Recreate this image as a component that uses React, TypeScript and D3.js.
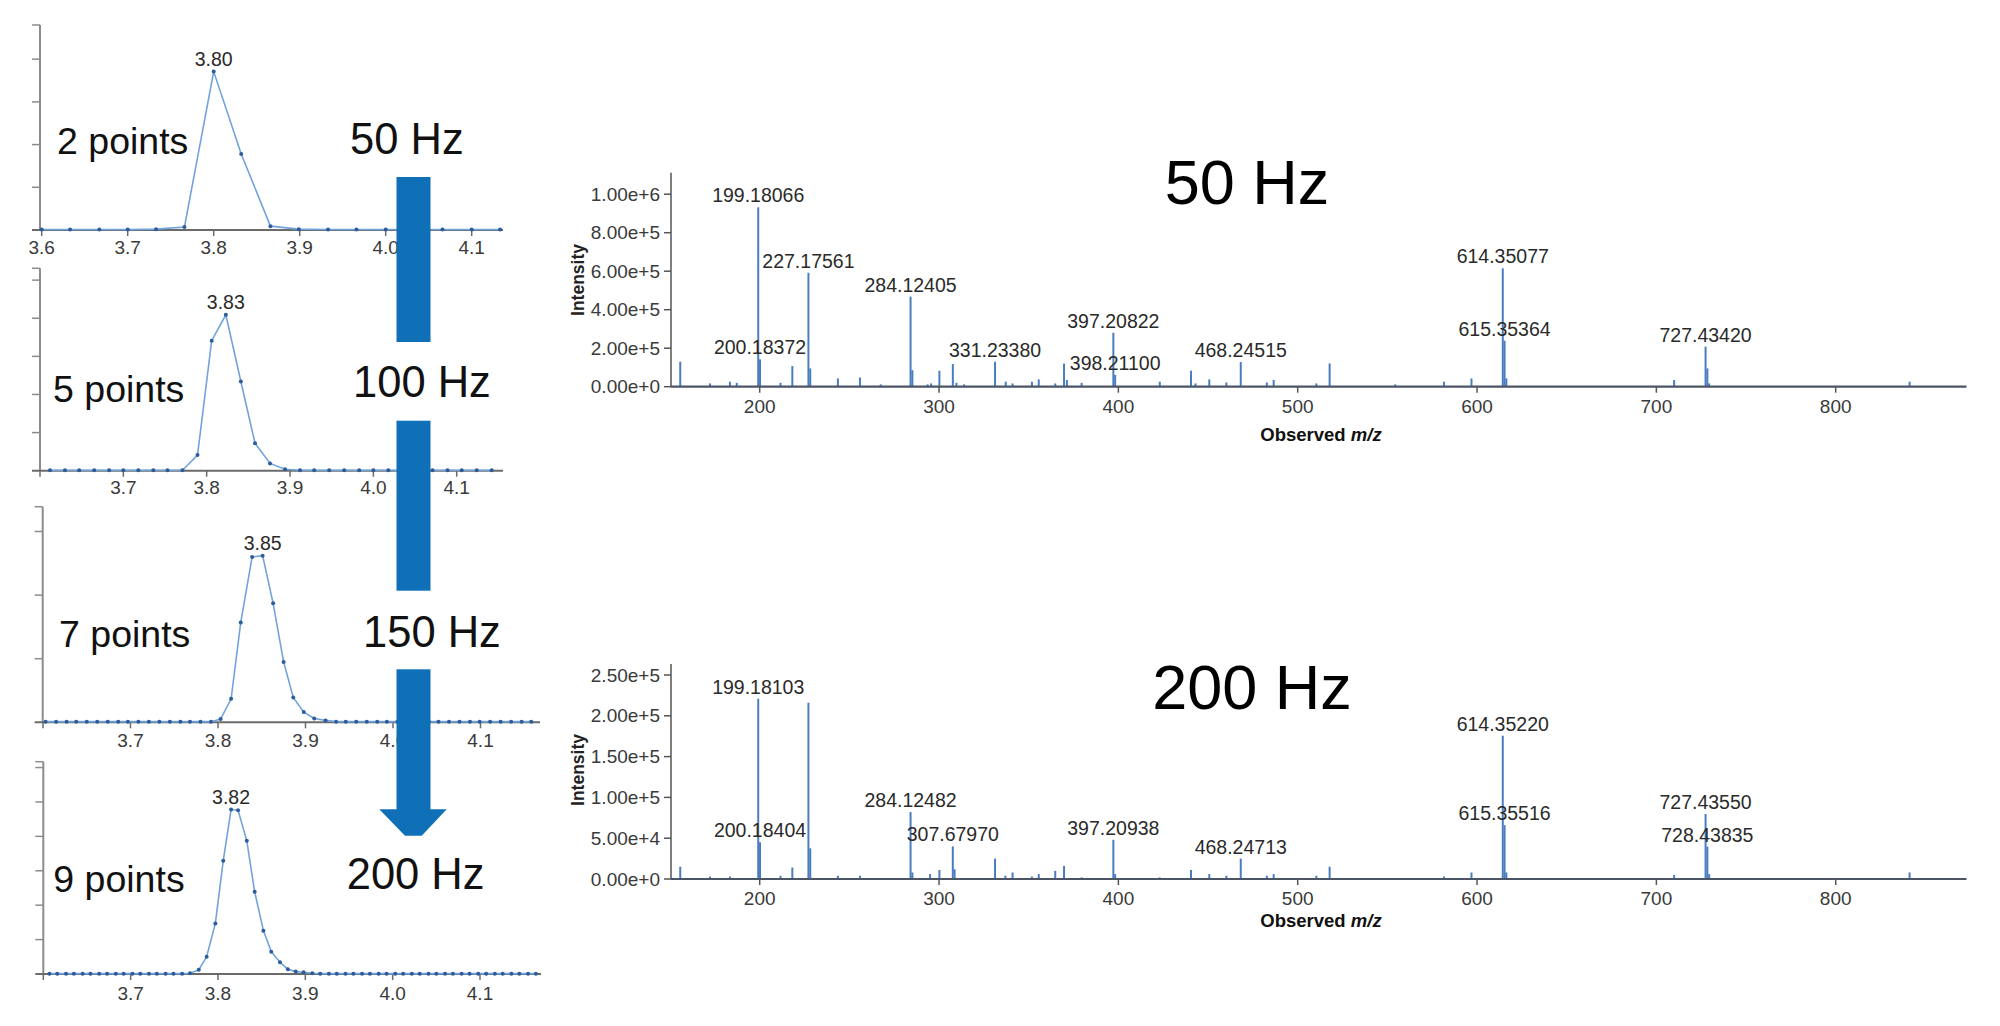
import React from 'react';
import * as d3 from 'd3';

// ---------- Chromatogram data (retention time in min, relative intensity in tick units) ----------
const chromTickValues = [3.6, 3.7, 3.8, 3.9, 4.0, 4.1];

const p1Time = [3.600, 3.633, 3.667, 3.700, 3.733, 3.766, 3.800, 3.832, 3.866, 3.899, 3.933, 3.966, 4.000, 4.033, 4.066, 4.100, 4.133];
const p1Int = [0.01, 0.01, 0.01, 0.01, 0.02, 0.07, 3.71, 1.78, 0.09, 0.02, 0.01, 0.01, 0.01, 0.01, 0.01, 0.01, 0.01];

const p2Time = [3.612, 3.630, 3.647, 3.665, 3.683, 3.700, 3.718, 3.736, 3.753, 3.771, 3.789, 3.806, 3.823, 3.841, 3.858, 3.876, 3.894, 3.912, 3.929, 3.947, 3.965, 3.983, 4.000, 4.018, 4.036, 4.053, 4.071, 4.089, 4.106, 4.124, 4.142];
const p2Int = [0.01, 0.01, 0.01, 0.01, 0.01, 0.01, 0.01, 0.01, 0.01, 0.01, 0.41, 3.41, 4.09, 2.34, 0.72, 0.19, 0.04, 0.01, 0.01, 0.01, 0.01, 0.01, 0.01, 0.01, 0.01, 0.01, 0.01, 0.01, 0.01, 0.01, 0.01];

const p3Time = [3.603, 3.615, 3.627, 3.638, 3.650, 3.662, 3.674, 3.686, 3.697, 3.709, 3.721, 3.733, 3.745, 3.757, 3.768, 3.780, 3.792, 3.803, 3.815, 3.826, 3.839, 3.851, 3.863, 3.875, 3.886, 3.898, 3.910, 3.923, 3.935, 3.946, 3.958, 3.970, 3.982, 3.993, 4.005, 4.017, 4.029, 4.041, 4.052, 4.064, 4.076, 4.088, 4.099, 4.111, 4.123, 4.135, 4.147, 4.158];
const p3Int = [0.01, 0.01, 0.01, 0.01, 0.01, 0.01, 0.01, 0.01, 0.01, 0.01, 0.01, 0.01, 0.01, 0.01, 0.01, 0.01, 0.01, 0.05, 0.37, 1.57, 2.60, 2.62, 1.87, 0.95, 0.39, 0.16, 0.06, 0.03, 0.01, 0.01, 0.01, 0.01, 0.01, 0.01, 0.01, 0.01, 0.01, 0.01, 0.01, 0.01, 0.01, 0.01, 0.01, 0.01, 0.01, 0.01, 0.01, 0.01];

const p4Time = [3.607, 3.616, 3.626, 3.635, 3.645, 3.654, 3.664, 3.673, 3.683, 3.692, 3.702, 3.711, 3.721, 3.730, 3.740, 3.749, 3.759, 3.768, 3.778, 3.787, 3.797, 3.806, 3.815, 3.823, 3.833, 3.842, 3.852, 3.861, 3.871, 3.880, 3.889, 3.898, 3.908, 3.917, 3.927, 3.936, 3.946, 3.955, 3.965, 3.974, 3.984, 3.993, 4.003, 4.012, 4.022, 4.031, 4.041, 4.050, 4.060, 4.069, 4.079, 4.088, 4.098, 4.107, 4.117, 4.126, 4.136, 4.145, 4.155, 4.164];
const p4Int = [0.01, 0.01, 0.01, 0.01, 0.01, 0.01, 0.01, 0.01, 0.01, 0.01, 0.01, 0.01, 0.01, 0.01, 0.01, 0.01, 0.01, 0.02, 0.12, 0.50, 1.47, 3.29, 4.78, 4.76, 3.87, 2.39, 1.26, 0.65, 0.34, 0.14, 0.07, 0.05, 0.02, 0.01, 0.01, 0.01, 0.01, 0.01, 0.01, 0.01, 0.01, 0.01, 0.01, 0.01, 0.01, 0.01, 0.01, 0.01, 0.01, 0.01, 0.01, 0.01, 0.01, 0.01, 0.01, 0.01, 0.01, 0.01, 0.01, 0.01];

const pointLabels = ['2 points', '5 points', '7 points', '9 points'];
const rateLabels = ['50 Hz', '100 Hz', '150 Hz', '200 Hz'];
const apexLabels = ['3.80', '3.83', '3.85', '3.82'];
const apexTimes = [3.800, 3.823, 3.851, 3.815];
const yTickCounts = [[1, 2, 3, 4], [1, 2, 3, 4, 5], [1, 2, 3], [1, 2, 3, 4, 5, 6]];

// ---------- Mass spectra data ----------
const mz50 = [155.7, 172.3, 183.4, 187.2, 199.18066, 200.18372, 211.6, 218.2, 227.17561, 228.18, 243.6, 255.9, 267.5, 284.12405, 285.13, 293.6, 295.6, 300.2, 307.7, 309.7, 314.0, 331.2338, 337.2, 341.0, 351.8, 355.6, 364.8, 369.7, 371.3, 379.5, 397.20822, 398.211, 423.1, 440.5, 443.0, 450.7, 460.2, 468.24515, 482.8, 486.6, 510.4, 517.8, 554.4, 581.6, 596.9, 614.35077, 615.35364, 616.36, 709.9, 727.4342, 728.44, 729.44, 841.2];
const int50 = [130e3, 17e3, 26e3, 20e3, 932e3, 142e3, 20e3, 107e3, 592e3, 95e3, 43e3, 48e3, 12e3, 468e3, 86e3, 12e3, 17e3, 83e3, 118e3, 20e3, 12e3, 130e3, 26e3, 17e3, 26e3, 38e3, 17e3, 120e3, 35e3, 20e3, 280e3, 61e3, 26e3, 83e3, 17e3, 38e3, 22e3, 128e3, 22e3, 35e3, 17e3, 121e3, 12e3, 26e3, 43e3, 615e3, 239e3, 43e3, 35e3, 208e3, 95e3, 17e3, 26e3];
const labels50 = [199.18066, 200.18372, 227.17561, 284.12405, 331.2338, 397.20822, 398.211, 468.24515, 614.35077, 615.35364, 727.4342];

const mz200 = [155.7, 172.3, 183.4, 199.18103, 200.18404, 211.6, 218.2, 227.17, 228.18, 243.6, 255.9, 284.12482, 285.13, 295.0, 300.2, 307.6797, 308.68, 331.23, 337.0, 341.0, 351.8, 355.6, 364.8, 369.7, 379.5, 397.20938, 398.21, 423.0, 440.5, 450.7, 460.2, 468.24713, 482.8, 486.6, 510.4, 517.8, 581.6, 596.9, 614.3522, 615.35516, 616.36, 709.9, 727.4355, 728.43835, 729.44, 841.2];
const int200 = [15e3, 3e3, 3e3, 221e3, 45e3, 4e3, 14e3, 216e3, 37.6e3, 4e3, 4e3, 82e3, 8e3, 6e3, 11e3, 40e3, 12e3, 25e3, 4e3, 8e3, 3e3, 6e3, 10e3, 16e3, 2e3, 48e3, 6e3, 2e3, 11e3, 6e3, 4e3, 25e3, 4e3, 6e3, 4e3, 15e3, 3e3, 8e3, 175.6e3, 66e3, 8e3, 5e3, 79.6e3, 39.6e3, 6e3, 8e3];
const labels200 = [199.18103, 200.18404, 284.12482, 307.6797, 397.20938, 468.24713, 614.3522, 615.35516, 727.4355, 728.43835];

const mzTicks = [200, 300, 400, 500, 600, 700, 800];
const yTicks50 = [0, 2e5, 4e5, 6e5, 8e5, 1e6];
const yTicks200 = [0, 5e4, 1e5, 1.5e5, 2e5, 2.5e5];
const spectrumTitles = ['50 Hz', '200 Hz'];

// ---------- Layout ----------
const FONT = '"Liberation Sans", Arial, sans-serif';
const chromLayout = [
  { x0: 41.7, x1: 471.7, axL: 40, axR: 503, yBase: 230, yTop: 25, yMax: 4.8, tickDy: 17, ptX: 57, ptY: 154, hzX: 350, hzY: 154 },
  { x0: 40, x1: 456.7, axL: 40, axR: 503, yBase: 470.7, yTop: 268.3, yMax: 5.31, tickDy: 17, ptX: 53, ptY: 401.7, hzX: 353, hzY: 397.3 },
  { x0: 43, x1: 480.5, axL: 42.7, axR: 540, yBase: 722.3, yTop: 506.7, yMax: 3.39, tickDy: 18, ptX: 59, ptY: 646.7, hzX: 363, hzY: 646.7 },
  { x0: 43.3, x1: 480, axL: 43.3, axR: 541, yBase: 974, yTop: 761.7, yMax: 6.17, tickDy: 19, ptX: 53.3, ptY: 891.7, hzX: 346.7, hzY: 889.3 },
];
const chromData = [[p1Time, p1Int], [p2Time, p2Int], [p3Time, p3Int], [p4Time, p4Int]];

const specLayout = [
  { yBase: 386.7, yTopTick: 194.2, yTopVal: 1e6, axTop: 172.7, titleX: 1247, titleY: 204, intY: 280, xlabY: 441, tickLabY: 413 },
  { yBase: 879, yTopTick: 675, yTopVal: 2.5e5, axTop: 664, titleX: 1252, titleY: 709, intY: 770, xlabY: 926.7, tickLabY: 905 },
];
const specData = [[mz50, int50, labels50, yTicks50], [mz200, int200, labels200, yTicks200]];

const xMz = d3.scaleLinear().domain([200, 800]).range([759.7, 1835.7]);
const specAxL = 671;
const specAxR = 1966.5;

const ARROW = '#0f70b7';
const fmtE = d3.format('.2e');

function Chrom({ i }: { i: number }) {
  const L = chromLayout[i];
  const [ts, vs] = chromData[i];
  const x = d3.scaleLinear().domain([3.6, 4.1]).range([L.x0, L.x1]);
  const y = d3.scaleLinear().domain([0, L.yMax]).range([L.yBase, L.yTop]);
  const pts = ts.map((t, k) => [t, vs[k]] as [number, number]);
  const line = d3.line<[number, number]>().x(d => x(d[0])).y(d => y(d[1]));
  const ticksShown = i === 0 ? chromTickValues : chromTickValues.slice(1);
  const apexIdx = vs.indexOf(Math.max(...vs));
  return (
    <g>
      {/* y axis */}
      <line x1={L.axL} x2={L.axL} y1={L.yTop} y2={L.yBase} stroke="#8c8c8c" strokeWidth={2} />
      <line x1={L.axL - 8} x2={L.axL} y1={L.yTop} y2={L.yTop} stroke="#8c8c8c" strokeWidth={1.5} />
      {yTickCounts[i].map(v => (
        <line key={v} x1={L.axL - 8} x2={L.axL} y1={y(v)} y2={y(v)} stroke="#8c8c8c" strokeWidth={1.5} />
      ))}
      {/* x axis */}
      <line x1={L.axL - 8} x2={L.axR} y1={L.yBase} y2={L.yBase} stroke="#6b6b6b" strokeWidth={2} />
      {chromTickValues.map(v => (
        <line key={v} x1={x(v)} x2={x(v)} y1={L.yBase} y2={L.yBase + 6} stroke="#6b6b6b" strokeWidth={1.5} />
      ))}
      {ticksShown.map(v => (
        <text key={v} x={x(v)} y={L.yBase + L.tickDy} textAnchor="middle" dominantBaseline="central"
          fontFamily={FONT} fontSize={19} fill="#3a3a3a">{v.toFixed(1)}</text>
      ))}
      {/* trace */}
      <path d={line(pts) || ''} fill="none" stroke="#72a3dc" strokeWidth={1.6} />
      {pts.map((p, k) => (
        <circle key={k} cx={x(p[0])} cy={y(p[1])} r={2} fill="#2d5c9c" />
      ))}
      <text x={x(apexTimes[i])} y={y(vs[apexIdx]) - 6} textAnchor="middle" fontFamily={FONT} fontSize={19.5} fill="#2a2a2a">{apexLabels[i]}</text>
      <text x={L.ptX} y={L.ptY} fontFamily={FONT} fontSize={37.5} fill="#111">{pointLabels[i]}</text>
      <text x={L.hzX} y={L.hzY} fontFamily={FONT} fontSize={43.5} fill="#111">{rateLabels[i]}</text>
    </g>
  );
}

function Spectrum({ i }: { i: number }) {
  const L = specLayout[i];
  const [mzs, ints, labs, yt] = specData[i] as [number[], number[], number[], number[]];
  const y = d3.scaleLinear().domain([0, L.yTopVal]).range([L.yBase, L.yTopTick]);
  return (
    <g>
      {/* sticks */}
      {mzs.map((m, k) => (
        <line key={k} x1={xMz(m)} x2={xMz(m)} y1={L.yBase} y2={y(ints[k])} stroke="#4a7dc0" strokeWidth={2} />
      ))}
      {/* axes */}
      <line x1={specAxL} x2={specAxL} y1={L.axTop} y2={L.yBase} stroke="#555" strokeWidth={1.5} />
      <line x1={specAxL} x2={specAxR} y1={L.yBase} y2={L.yBase} stroke="#4b5566" strokeWidth={2.2} />
      {yt.map(v => (
        <g key={v}>
          <line x1={specAxL - 7} x2={specAxL} y1={y(v)} y2={y(v)} stroke="#555" strokeWidth={1.5} />
          <text x={specAxL - 11} y={y(v)} textAnchor="end" dominantBaseline="central" fontFamily={FONT} fontSize={19} fill="#3a3a3a">{fmtE(v)}</text>
        </g>
      ))}
      {mzTicks.map(v => (
        <g key={v}>
          <line x1={xMz(v)} x2={xMz(v)} y1={L.yBase} y2={L.yBase + 6} stroke="#555" strokeWidth={1.5} />
          <text x={xMz(v)} y={L.tickLabY} textAnchor="middle" fontFamily={FONT} fontSize={19} fill="#3a3a3a">{v}</text>
        </g>
      ))}
      {/* peak labels */}
      {labs.map(m => {
        const k = mzs.indexOf(m);
        return (
          <text key={m} x={xMz(m)} y={y(ints[k]) - 5} textAnchor="middle" fontFamily={FONT} fontSize={19.5} fill="#2a2a2a">{m.toFixed(5)}</text>
        );
      })}
      <text transform={`translate(${584},${L.intY}) rotate(-90)`} textAnchor="middle" fontFamily={FONT} fontSize={17.5} fontWeight="bold" fill="#222">Intensity</text>
      <text x={1321} y={L.xlabY} textAnchor="middle" fontFamily={FONT} fontSize={18.5} fontWeight="bold" fill="#111">
        Observed <tspan fontStyle="italic">m/z</tspan>
      </text>
      <text x={L.titleX} y={L.titleY} textAnchor="middle" fontFamily={FONT} fontSize={63} fill="#000">{spectrumTitles[i]}</text>
    </g>
  );
}

export default function App() {
  return (
    <svg width={2000} height={1026} style={{ position: 'absolute', left: 0, top: 0, background: '#fff' }}>
      <rect x={0} y={0} width={2000} height={1026} fill="#fff" />
      {[0, 1, 2, 3].map(i => <Chrom key={i} i={i} />)}
      {/* arrow */}
      <rect x={396.5} y={177} width={34} height={165} fill={ARROW} />
      <rect x={396.5} y={420.7} width={34} height={170} fill={ARROW} />
      <rect x={396.5} y={669.3} width={34} height={141} fill={ARROW} />
      <polygon points="379.3,809.3 446.7,809.3 421.7,835.7 405,835.7" fill={ARROW} />
      {[0, 1].map(i => <Spectrum key={i} i={i} />)}
    </svg>
  );
}
